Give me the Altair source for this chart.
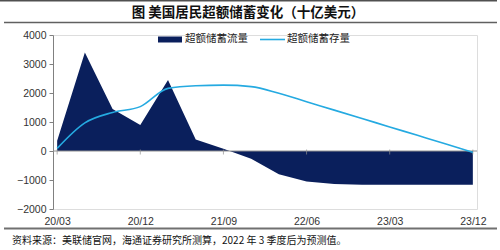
import altair as alt
import pandas as pd

quarters = ["20/03", "20/06", "20/09", "20/12", "21/03", "21/06", "21/09", "21/12",
            "22/03", "22/06", "22/09", "22/12", "23/03", "23/06", "23/09", "23/12"]
flow = [350, 3400, 1450, 900, 2450, 400, 80, -270, -800, -1050, -1140, -1160,
        -1160, -1160, -1160, -1160]
stock = [90, 970, 1330, 1530, 2160, 2250, 2270, 2220, 1990, 1700, 1410, 1120,
         830, 540, 250, -50]
tick_idx = [0, 3, 6, 9, 12, 15]
y_ticks = [-2000, -1000, 0, 1000, 2000, 3000, 4000]

title_text = "图 美国居民超额储蓄变化（十亿美元）"
source_text = "资料来源：美联储官网，海通证券研究所测算，2022 年 3 季度后为预测值。"
legend_names = ["超额储蓄流量", "超额储蓄存量"]

NAVY = "#0A1F5C"
LIGHT = "#25AAE1"
CJK = "Noto Sans CJK SC"
LAT = "Liberation Sans"

df = pd.DataFrame({"idx": list(range(len(quarters))), "q": quarters,
                   "flow": flow, "stock": stock})
ticks_df = pd.DataFrame({"idx": tick_idx})
one = pd.DataFrame({"a": [0]})

label_arr = "[" + ",".join("'" + q + "'" for q in quarters) + "]"

W, H = 424, 174
xscale = alt.Scale(domain=[-0.15, 15.15], nice=False, zero=False)
yscale = alt.Scale(domain=[-2000, 4000], nice=False)

xaxis = alt.Axis(values=tick_idx, labelExpr=label_arr + "[datum.value]",
                 domain=False, ticks=False, grid=False, labelPadding=7,
                 labelOverlap=False,
                 labelFont=LAT, labelFontSize=10.5, labelColor="#333333",
                 title=None)
yaxis = alt.Axis(values=y_ticks, format="d", labelOverlap=False,
                 grid=False, domainColor="#808080",
                 tickColor="#808080", tickSize=4, labelPadding=3,
                 labelFont=LAT, labelFontSize=10.5, labelColor="#333333",
                 title=None)

area = alt.Chart(df).mark_area(color=NAVY, opacity=1).encode(
    x=alt.X("idx:Q", scale=xscale, axis=xaxis),
    y=alt.Y("flow:Q", scale=yscale, axis=yaxis))

zero = alt.Chart(one).mark_rule(color="#909090", strokeWidth=1).encode(
    y=alt.datum(0, scale=yscale, axis=yaxis), x=alt.value(0), x2=alt.value(W))

xt = alt.Chart(ticks_df).mark_tick(color="#909090", orient="vertical", size=5,
                                   yOffset=1, thickness=1).encode(
    x=alt.X("idx:Q", scale=xscale, axis=xaxis),
    y=alt.datum(0, scale=yscale, axis=yaxis))

line = alt.Chart(df).mark_line(color=LIGHT, strokeWidth=1.6,
                               interpolate="monotone").encode(
    x=alt.X("idx:Q", scale=xscale, axis=xaxis),
    y=alt.Y("stock:Q", scale=yscale, axis=yaxis))

# legend
ox, oy = 53, 35
leg_rect = alt.Chart(one).mark_rect(color=NAVY).encode(
    x=alt.value(158 - ox), x2=alt.value(182 - ox),
    y=alt.value(36.5 - oy), y2=alt.value(42.5 - oy))
leg_t1 = alt.Chart(one).mark_text(align="left", baseline="middle", font=CJK,
                                  fontSize=10.5, color="#222222").encode(
    x=alt.value(185 - ox), y=alt.value(39 - oy), text=alt.value(legend_names[0]))
leg_line = alt.Chart(one).mark_rule(color=LIGHT, strokeWidth=1.6).encode(
    x=alt.value(260 - ox), x2=alt.value(285 - ox), y=alt.value(39.5 - oy))
leg_t2 = alt.Chart(one).mark_text(align="left", baseline="middle", font=CJK,
                                  fontSize=10.5, color="#222222").encode(
    x=alt.value(287 - ox), y=alt.value(39 - oy), text=alt.value(legend_names[1]))

# title, source and frame lines
title = alt.Chart(one).mark_text(align="center", baseline="middle", font=CJK,
                                 fontSize=13.5, fontWeight="bold",
                                 color="#111111").encode(
    x=alt.value(248 - ox), y=alt.value(12.5 - oy), text=alt.value(title_text))
source = alt.Chart(one).mark_text(align="left", baseline="middle", font=CJK,
                                  fontSize=10, color="#111111").encode(
    x=alt.value(12 - ox), y=alt.value(241 - oy), text=alt.value(source_text))
top_line = alt.Chart(one).mark_rule(color="#505050", strokeWidth=1.5).encode(
    x=alt.value(0 - ox), x2=alt.value(497 - ox), y=alt.value(0.75 - oy))
mid_line = alt.Chart(one).mark_rule(color="#606060", strokeWidth=1.5).encode(
    x=alt.value(4 - ox), x2=alt.value(497 - ox), y=alt.value(22.5 - oy))
bot_line = alt.Chart(one).mark_rule(color="#707070", strokeWidth=1.8).encode(
    x=alt.value(4 - ox), x2=alt.value(497 - ox), y=alt.value(228.5 - oy))

chart = alt.layer(area, zero, xt, line, leg_rect, leg_t1, leg_line, leg_t2,
                  title, source, top_line, mid_line, bot_line).properties(
    width=W, height=H,
    autosize=alt.AutoSizeParams(type="none"),
    padding={"left": ox, "top": oy, "right": 500 - ox - W, "bottom": 250 - oy - H},
).configure_view(stroke=None).configure(background="white")

chart.save("out.html", embed_options={"renderer": "svg", "actions": False})
